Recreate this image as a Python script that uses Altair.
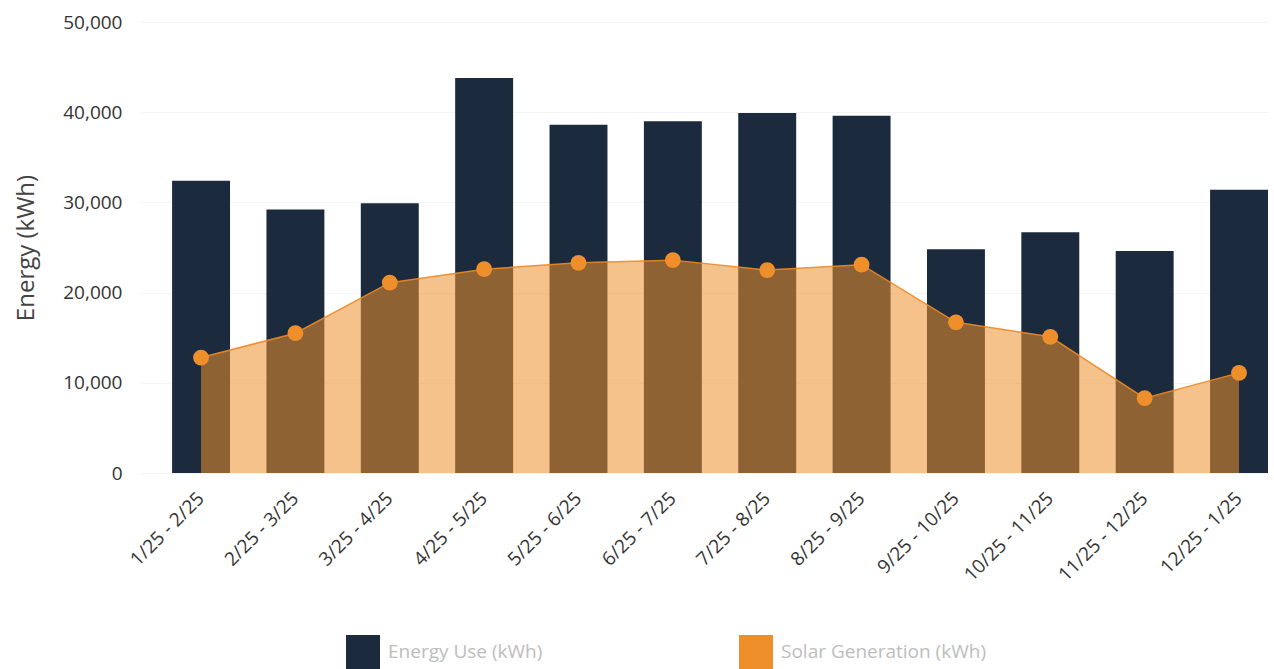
import altair as alt
import pandas as pd

periods = ["1/25 - 2/25", "2/25 - 3/25", "3/25 - 4/25", "4/25 - 5/25", "5/25 - 6/25",
           "6/25 - 7/25", "7/25 - 8/25", "8/25 - 9/25", "9/25 - 10/25", "10/25 - 11/25",
           "11/25 - 12/25", "12/25 - 1/25"]
energy_use = [32400, 29200, 29900, 43800, 38600, 39000, 39900, 39600, 24800, 26700, 24600, 31400]
solar_gen = [12800, 15500, 21100, 22600, 23300, 23600, 22500, 23100, 16700, 15100, 8300, 11100]
y_ticks = [0, 10000, 20000, 30000, 40000, 50000]
series_names = ["Energy Use (kWh)", "Solar Generation (kWh)"]
series_colors = ["#1b2a3c", "#ee8f2c"]

df = pd.DataFrame({"period": periods, "use": energy_use, "solar": solar_gen})

FONT = "Open Sans"

x = alt.X("period:N", sort=periods, title=None,
          scale=alt.Scale(paddingInner=0.386, paddingOuter=0.17, align=1),
          axis=alt.Axis(labelAngle=-45, labelAlign="right", labelBaseline="middle",
                        labelPadding=22, labelFontSize=19, labelColor="#333333",
                        ticks=False, domain=False, labelFont=FONT, grid=False))

yscale = alt.Scale(domain=[0, 50000], nice=False)
yaxis = alt.Axis(values=y_ticks, format=",.0f", formatType="number",
                 labelFontSize=19, labelColor="#333333", labelFont=FONT,
                 labelPadding=18, ticks=False, domain=False,
                 gridColor="#f4f4f4", gridWidth=1,
                 titleFontSize=24, titleFontWeight="normal", titleColor="#444444",
                 titleFont=FONT, titlePadding=24)


def yenc(field):
    return alt.Y(field, type="quantitative", scale=yscale, title="Energy (kWh)", axis=yaxis)


cscale = alt.Scale(domain=series_names, range=series_colors)
legend = alt.Legend(title=None, orient="none", legendX=206, legendY=613,
                    direction="horizontal", symbolType="square",
                    symbolSize=1156, symbolOpacity=1, symbolStrokeWidth=0,
                    labelFontSize=19, labelColor="#bdbdbd", labelFont=FONT,
                    labelOffset=8, labelLimit=400, columnPadding=196,
                    padding=0)
color = alt.Color("series:N", scale=cscale, legend=legend)

base = alt.Chart(df)

bars = base.transform_calculate(series=f"'{series_names[0]}'").mark_bar().encode(
    x=x,
    y=yenc("use"),
    color=color,
)

area = base.transform_calculate(series=f"'{series_names[1]}'").mark_area(
    opacity=0.55, interpolate="linear").encode(
    x=x,
    y=yenc("solar"),
    color=color,
)

edge = base.mark_line(color="#ec8a26", strokeWidth=1.5, opacity=0.9).encode(
    x=x,
    y=yenc("solar"),
)

pts = base.mark_point(filled=True, size=250, opacity=1, color="#ee8f2c").encode(
    x=x,
    y=yenc("solar"),
)

chart = alt.layer(bars, area, edge, pts).properties(
    width=1128, height=451,
    autosize=alt.AutoSizeParams(type="none"),
    padding={"left": 140, "top": 22, "right": 6, "bottom": 196},
).configure(font=FONT).configure_view(stroke=None, strokeWidth=0)

chart.save("out.html", embed_options={"renderer": "svg", "actions": False})
